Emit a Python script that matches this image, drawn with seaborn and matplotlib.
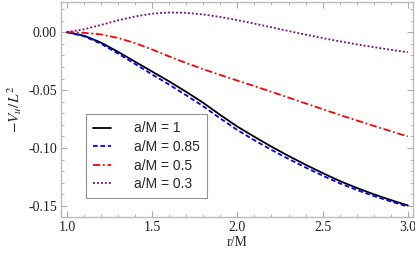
import numpy as np
import pandas as pd
import seaborn as sns
import matplotlib.pyplot as plt
from matplotlib.ticker import MultipleLocator, FormatStrFormatter

# values
r_vals = [1.0, 1.1, 1.2, 1.3, 1.4, 1.5, 1.6, 1.7, 1.8, 1.9, 2.0,
          2.1, 2.2, 2.3, 2.4, 2.5, 2.6, 2.7, 2.8, 2.9, 3.0]
v_a100 = [0.0, -0.003, -0.009, -0.017, -0.0255, -0.034, -0.0425, -0.0515, -0.061, -0.0715, -0.0815,
          -0.0903, -0.0988, -0.1068, -0.1144, -0.1216, -0.1284, -0.1344, -0.1399, -0.1449, -0.1495]
v_a085 = [0.0, -0.0035, -0.010, -0.0185, -0.0275, -0.0365, -0.0453, -0.0545, -0.064, -0.0745, -0.0845,
          -0.0933, -0.1016, -0.1094, -0.1168, -0.1238, -0.1304, -0.1362, -0.1414, -0.1461, -0.1505]
v_a050 = [0.0, -0.0005, -0.002, -0.005, -0.0095, -0.015, -0.021, -0.0267, -0.032, -0.037, -0.0418,
          -0.0466, -0.0515, -0.0565, -0.0615, -0.0665, -0.0714, -0.0762, -0.0809, -0.0855, -0.090]
v_a030 = [0.0, 0.0025, 0.0063, 0.0102, 0.0136, 0.0160, 0.0170, 0.0167, 0.0153, 0.0131, 0.0104,
          0.0074, 0.0042, 0.0010, -0.0021, -0.0051, -0.0079, -0.0105, -0.0129, -0.0152, -0.0174]
labels = ['a/M = 1', 'a/M = 0.85', 'a/M = 0.5', 'a/M = 0.3']

sns.set_style('ticks')
plt.rcParams['font.family'] = ['Liberation Serif', 'DejaVu Serif']
plt.rcParams['mathtext.fontset'] = 'stix'

fig = plt.figure(figsize=(4.15, 2.58), dpi=100)
ax = fig.add_axes([0.147, 0.159, 0.848, 0.833])

series = [
    (v_a100, 'black', '-'),
    (v_a085, 'blue', (0, (2.6, 1.5))),
    (v_a050, 'red', (0, (4, 1.5, 1, 1.5))),
    (v_a030, '#800080', (0, (1, 1.2))),
]
for (vals, col, ls), lab in zip(series, labels):
    df = pd.DataFrame({'r': r_vals, 'v': vals})
    sns.lineplot(data=df, x='r', y='v', ax=ax, color=col, linestyle=ls,
                 lw=1.3, label=lab)

ax.set_xlim(0.965, 3.03)
ax.set_ylim(-0.1595, 0.026)
ax.xaxis.set_major_locator(MultipleLocator(0.5))
ax.xaxis.set_minor_locator(MultipleLocator(0.1))
ax.yaxis.set_major_locator(MultipleLocator(0.05))
ax.yaxis.set_minor_locator(MultipleLocator(0.01))
ax.xaxis.set_major_formatter(FormatStrFormatter('%.1f'))
ax.yaxis.set_major_formatter(FormatStrFormatter('%.2f'))

for s in ax.spines.values():
    s.set_color('#bbbbbb')
    s.set_linewidth(1.0)
ax.tick_params(which='both', direction='in', top=True, right=True,
               color='#aaaaaa', labelsize=10, labelcolor='#222222', pad=3)
ax.tick_params(which='major', length=4, width=0.8)
ax.tick_params(which='minor', length=2, width=0.6)

ax.set_xlabel('r/M', fontsize=10, labelpad=1)
ax.set_ylabel(r'$-V_u/L^2$', fontsize=11, labelpad=3)

leg = ax.legend(loc='lower left', bbox_to_anchor=(0.07, 0.088), frameon=True,
                fancybox=False, handlelength=1.3, borderpad=0.5,
                labelspacing=0.33, handletextpad=1.7, borderaxespad=0,
                prop={'family': ['Liberation Sans', 'DejaVu Sans'], 'size': 10})
leg.get_frame().set_edgecolor('#777777')
leg.get_frame().set_linewidth(0.8)

fig.savefig('out.png', dpi=100)
